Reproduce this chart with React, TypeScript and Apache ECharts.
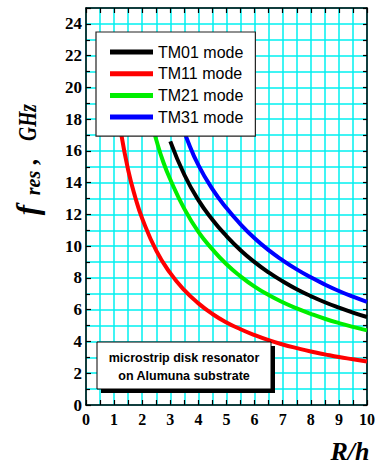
import React, { useEffect, useRef } from 'react';
import * as echarts from 'echarts';

const seriesNames = ['TM01 mode', 'TM11 mode', 'TM21 mode', 'TM31 mode'];

const tm01X = [3, 3.5, 4, 4.5, 5, 5.5, 6, 6.5, 7, 7.5, 8, 8.5, 9, 9.5, 10];
const tm01Y = [16.6, 14.5, 12.9, 11.67, 10.64, 9.75, 9.0, 8.35, 7.79, 7.29, 6.86, 6.47, 6.13, 5.82, 5.54];

const tm11X = [1.1, 1.25, 1.5, 1.75, 2, 2.5, 3, 3.5, 4, 4.5, 5, 5.5, 6, 6.5, 7, 7.5, 8, 8.5, 9, 9.5, 10];
const tm11Y = [19.1, 17.1, 14.8, 13.1, 11.75, 9.72, 8.3, 7.23, 6.4, 5.73, 5.2, 4.77, 4.4, 4.08, 3.81, 3.58, 3.37, 3.19, 3.02, 2.88, 2.74];

const tm21X = [2.3, 2.5, 2.75, 3, 3.5, 4, 4.5, 5, 5.5, 6, 6.5, 7, 7.5, 8, 8.5, 9, 9.5, 10];
const tm21Y = [18.0, 16.7, 15.3, 14.2, 12.35, 10.9, 9.8, 8.86, 8.1, 7.45, 6.92, 6.47, 6.08, 5.74, 5.43, 5.16, 4.92, 4.70];

const tm31X = [3.3, 3.6, 4, 4.5, 5, 5.5, 6, 6.5, 7, 7.5, 8, 8.5, 9, 9.5, 10];
const tm31Y = [18.2, 16.72, 15.1, 13.6, 12.4, 11.38, 10.5, 9.75, 9.11, 8.54, 8.04, 7.59, 7.18, 6.82, 6.49];

const seriesColors = ['#000000', '#ff0000', '#00ee00', '#0000ff'];

const zip = (xs: number[], ys: number[]) => xs.map((x, i) => [x, ys[i]]);

const serif = '"Liberation Serif", "Times New Roman", serif';
const sans = '"Liberation Sans", Arial, sans-serif';

export default function App() {
  const ref = useRef<HTMLDivElement>(null);
  useEffect(() => {
    if (!ref.current) return;
    const chart = echarts.init(ref.current, undefined, { renderer: 'svg' });
    const datasets = [zip(tm01X, tm01Y), zip(tm11X, tm11Y), zip(tm21X, tm21Y), zip(tm31X, tm31Y)];
    const gridColor = '#00f0f0';
    chart.setOption({
      animation: false,
      backgroundColor: '#fff',
      grid: { left: 86, right: 8, top: 8, bottom: 60 },
      legend: {
        left: 96,
        top: 32,
        orient: 'vertical',
        icon: 'rect',
        itemWidth: 43,
        itemHeight: 5,
        itemGap: 1.7,
        padding: [10, 12, 9, 14],
        backgroundColor: '#fff',
        borderColor: '#222',
        borderWidth: 1.2,
        selectedMode: false,
        textStyle: { fontFamily: sans, fontSize: 16, color: '#000', lineHeight: 20 },
        data: seriesNames,
      },
      xAxis: [
        {
          type: 'value',
          min: 0,
          max: 10,
          interval: 1,
          axisLine: { show: true, onZero: false, lineStyle: { color: '#000', width: 1.5 } },
          axisTick: { show: true, inside: true, length: 5, lineStyle: { color: '#000', width: 1.2 } },
          minorTick: { show: true, splitNumber: 2, length: 5, lineStyle: { color: '#000', width: 1.2 } },
          axisLabel: { color: '#000', fontFamily: serif, fontWeight: 'bold', fontSize: 16, margin: 6 },
          splitLine: { show: true, lineStyle: { color: gridColor, width: 1.5 } },
          minorSplitLine: { show: true, lineStyle: { color: gridColor, width: 1.5 } },
        },
        {
          type: 'value',
          position: 'top',
          min: 0,
          max: 10,
          interval: 1,
          axisLine: { show: true, onZero: false, lineStyle: { color: '#000', width: 1.5 } },
          axisTick: { show: true, inside: true, length: 5, lineStyle: { color: '#000', width: 1.2 } },
          minorTick: { show: true, splitNumber: 2, length: 5, lineStyle: { color: '#000', width: 1.2 } },
          axisLabel: { show: false },
          splitLine: { show: false },
        },
      ],
      yAxis: [
        {
          type: 'value',
          min: 0,
          max: 25,
          interval: 2,
          axisLine: { show: true, onZero: false, lineStyle: { color: '#000', width: 1.5 } },
          axisTick: { show: true, inside: true, length: 5, lineStyle: { color: '#000', width: 1.2 } },
          minorTick: { show: true, splitNumber: 2, length: 4, lineStyle: { color: '#000', width: 1.2 } },
          axisLabel: { color: '#000', fontFamily: serif, fontWeight: 'bold', fontSize: 17, margin: 4, showMaxLabel: false },
          splitLine: { show: true, lineStyle: { color: gridColor, width: 1.5 } },
          minorSplitLine: { show: true, lineStyle: { color: gridColor, width: 1.5 } },
        },
        {
          type: 'value',
          position: 'right',
          min: 0,
          max: 25,
          interval: 1,
          axisLine: { show: true, onZero: false, lineStyle: { color: '#000', width: 1.5 } },
          axisTick: { show: true, inside: true, length: 4, lineStyle: { color: '#000', width: 1.2 } },
          axisLabel: { show: false },
          splitLine: { show: false },
        },
      ],
      series: seriesNames.map((name, i) => ({
        name,
        type: 'line',
        data: datasets[i],
        smooth: true,
        symbol: 'none',
        color: seriesColors[i],
        lineStyle: { color: seriesColors[i], width: 4 },
        z: 3,
      })),
      graphic: [
        {
          type: 'text', x: 27, y: 210, rotation: Math.PI / 2, z: 20,
          style: { text: 'f', font: `italic bold 31px ${serif}`, fill: '#000', align: 'center', verticalAlign: 'middle' },
        },
        {
          type: 'text', x: 33, y: 183, rotation: Math.PI / 2, z: 20,
          style: { text: 'res', font: `italic bold 20px ${serif}`, fill: '#000', align: 'center', verticalAlign: 'middle' },
        },
        {
          type: 'text', x: 28, y: 161, rotation: Math.PI / 2, z: 20,
          style: { text: ',', font: `italic bold 25px ${serif}`, fill: '#000', align: 'center', verticalAlign: 'middle' },
        },
        {
          type: 'text', x: 28, y: 122.5, rotation: Math.PI / 2, scaleX: 0.78, z: 20,
          style: { text: 'GHz', font: `italic bold 25px ${serif}`, fill: '#000', align: 'center', verticalAlign: 'middle' },
        },
        {
          type: 'text', x: 350, y: 451, z: 20,
          style: { text: 'R/h', font: `italic bold 26px ${serif}`, fill: '#000', align: 'center', verticalAlign: 'middle' },
        },
        {
          type: 'rect', z: 10, shape: { x: 101, y: 346, width: 174, height: 47 },
          style: { fill: '#000' },
        },
        {
          type: 'rect', z: 11, shape: { x: 97, y: 342, width: 174, height: 47 },
          style: { fill: '#fff', stroke: '#000', lineWidth: 1 },
        },
        {
          type: 'text', x: 184, y: 357.5, z: 12,
          style: { text: 'microstrip disk resonator', font: `bold 12.5px ${sans}`, fill: '#000', align: 'center', verticalAlign: 'middle' },
        },
        {
          type: 'text', x: 184, y: 376, z: 12,
          style: { text: 'on Alumuna substrate', font: `bold 12.5px ${sans}`, fill: '#000', align: 'center', verticalAlign: 'middle' },
        },
      ],
    });
    return () => chart.dispose();
  }, []);
  return <div ref={ref} style={{ position: 'fixed', left: 0, top: 0, width: 378, height: 465 }} />;
}
